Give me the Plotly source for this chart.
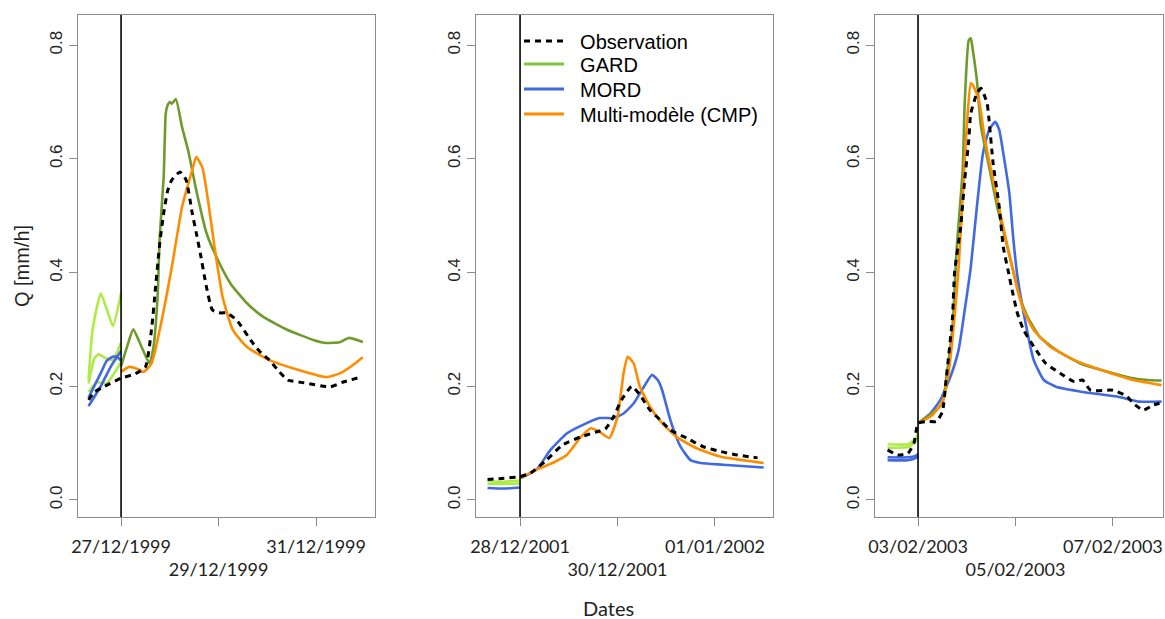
import pandas as pd
import plotly.graph_objects as go

# ---------------- data ----------------
issue_dates = ["1999-12-27", "2001-12-28", "2003-02-03"]
tick_dates = [["1999-12-27", "1999-12-29", "1999-12-31"],
              ["2001-12-28", "2001-12-30", "2002-01-01"],
              ["2003-02-03", "2003-02-05", "2003-02-07"]]
tick_labels = [["27/12/1999", "29/12/1999", "31/12/1999"],
               ["28/12/2001", "30/12/2001", "01/01/2002"],
               ["03/02/2003", "05/02/2003", "07/02/2003"]]

# hours relative to forecast issue time, discharge in mm/h
# ---- event 1 (1999)
obs1_h = [-16, -13, -8, 0, 7, 12, 15, 17, 19, 21, 23, 25, 29, 32, 35, 37, 39, 42, 45, 49, 52,
          57, 64, 68, 73, 78, 82, 90, 103, 109, 118]
obs1_q = [0.176, 0.19, 0.20, 0.214, 0.222, 0.234, 0.30, 0.375, 0.45, 0.505, 0.545, 0.563, 0.577,
          0.563, 0.505, 0.47, 0.434, 0.375, 0.334, 0.329, 0.329, 0.316, 0.28, 0.262, 0.246, 0.225,
          0.211, 0.206, 0.199, 0.207, 0.216]
gard1_h = [0, 3, 6, 10, 14, 16, 18, 19, 21, 22, 23, 24, 25, 27, 30, 33, 37, 42, 47, 54, 62, 70,
           82, 95, 101, 108, 112, 119]
gard1_q = [0.235, 0.27, 0.30, 0.27, 0.24, 0.27, 0.36, 0.46, 0.57, 0.68, 0.695, 0.70, 0.697, 0.705,
           0.656, 0.615, 0.545, 0.47, 0.427, 0.38, 0.346, 0.322, 0.299, 0.281, 0.276, 0.278, 0.285,
           0.278]
mord1_h = []
mord1_q = []
cmp1_h = [0, 4, 9, 11, 15, 20, 25, 30, 35, 37, 40, 43, 46, 50, 55, 62, 73, 87, 101, 108, 114, 119]
cmp1_q = [0.225, 0.234, 0.229, 0.225, 0.24, 0.316, 0.41, 0.515, 0.58, 0.603, 0.585, 0.522, 0.445,
          0.357, 0.299, 0.269, 0.246, 0.229, 0.216, 0.223, 0.237, 0.251]
gard1_pre_h = [[-16, -14, -10, -7, -4, 0], [-16, -13, -11, -8, -4, 0], [-16, -12, -7, -3, 0]]
gard1_pre_q = [[0.211, 0.30, 0.363, 0.335, 0.306, 0.364],
               [0.205, 0.25, 0.256, 0.25, 0.246, 0.277],
               [0.19, 0.207, 0.205, 0.225, 0.243]]
mord1_pre_h = [[-16, -10, -5, 0], [-16, -10, -7, -4, -2, 0]]
mord1_pre_q = [[0.165, 0.20, 0.235, 0.262], [0.18, 0.223, 0.245, 0.252, 0.252, 0.245]]

# ---- event 2 (2001)
obs2_h = [-16, -8, 0, 5, 13, 21, 30, 38, 42, 46, 50, 55, 59, 64, 69, 74, 82, 90, 99, 107, 117]
obs2_q = [0.036, 0.038, 0.041, 0.047, 0.07, 0.097, 0.111, 0.12, 0.125, 0.146, 0.176, 0.2, 0.185,
          0.158, 0.141, 0.123, 0.109, 0.094, 0.085, 0.079, 0.074]
gard2_h = []
gard2_q = []
mord2_h = [0, 8, 15, 23, 31, 39, 46, 51, 56, 61, 65, 68, 70, 74, 79, 84, 89, 100, 120]
mord2_q = [0.038, 0.053, 0.088, 0.117, 0.132, 0.144, 0.144, 0.152, 0.17, 0.199, 0.22, 0.21,
           0.193, 0.141, 0.094, 0.07, 0.065, 0.062, 0.057]
cmp2_h = [0, 8, 16, 23, 30, 35, 39, 44, 48, 51, 53, 56, 59, 64, 70, 77, 87, 99, 120]
cmp2_q = [0.039, 0.053, 0.065, 0.079, 0.111, 0.126, 0.12, 0.109, 0.146, 0.223, 0.252, 0.24, 0.199,
          0.164, 0.135, 0.111, 0.091, 0.076, 0.065]
gard2_pre_h = [[-16, -8, 0], [-16, -8, 0]]
gard2_pre_q = [[0.033, 0.032, 0.034], [0.028, 0.028, 0.029]]
mord2_pre_h = [[-16, -8, 0]]
mord2_pre_q = [[0.021, 0.02, 0.022]]

# ---- event 3 (2003)
obs3_h = [-15, -10, -5, -2, -1, 0, 4, 9, 12, 14, 17, 18, 21, 23, 25, 26, 29, 31, 34, 35, 37, 40,
          42, 45, 46, 49, 52, 57, 63, 70, 77, 81, 85, 96, 103, 106, 111, 116, 119]
obs3_q = [0.088, 0.079, 0.082, 0.10, 0.12, 0.135, 0.138, 0.138, 0.155, 0.217, 0.322, 0.40, 0.48,
          0.563, 0.633, 0.68, 0.715, 0.724, 0.698, 0.668, 0.592, 0.516, 0.445, 0.393, 0.375, 0.328,
          0.299, 0.27, 0.24, 0.223, 0.208, 0.211, 0.193, 0.193, 0.182, 0.17, 0.158, 0.167, 0.17]
gard3_h = [0, 7, 12, 14, 17, 19, 22, 23, 25, 26, 27, 29, 31, 35, 39, 44, 48, 50, 54, 60, 68, 80,
           93, 106, 113, 120]
gard3_q = [0.135, 0.153, 0.17, 0.217, 0.305, 0.44, 0.58, 0.698, 0.809, 0.812, 0.791, 0.738, 0.657,
           0.586, 0.516, 0.445, 0.387, 0.358, 0.322, 0.287, 0.264, 0.24, 0.226, 0.214, 0.211, 0.21]
mord3_h = [0, 6, 11, 16, 20, 23, 26, 29, 32, 35, 38, 40, 42, 45, 47, 49, 54, 57, 62, 68, 81, 98,
           109, 120]
mord3_q = [0.135, 0.152, 0.176, 0.217, 0.264, 0.334, 0.41, 0.516, 0.61, 0.651, 0.665, 0.651, 0.61,
           0.539, 0.457, 0.393, 0.293, 0.246, 0.211, 0.199, 0.19, 0.182, 0.173, 0.173]
cmp3_h = [0, 7, 12, 15, 18, 20, 22, 24, 26, 27, 30, 33, 37, 42, 47, 49, 52, 57, 65, 77, 90, 106, 120]
cmp3_q = [0.135, 0.149, 0.173, 0.223, 0.322, 0.41, 0.533, 0.657, 0.733, 0.73, 0.703, 0.633, 0.563,
          0.48, 0.40, 0.37, 0.334, 0.299, 0.27, 0.246, 0.229, 0.211, 0.202]
gard3_pre_h = [[-15, -5, -1, 0], [-15, -5, -1, 0]]
gard3_pre_q = [[0.098, 0.098, 0.108, 0.118], [0.092, 0.093, 0.103, 0.112]]
mord3_pre_h = [[-15, -5, -1, 0], [-15, -5, -1, 0]]
mord3_pre_q = [[0.075, 0.075, 0.078, 0.081], [0.070, 0.070, 0.074, 0.077]]

events = [
    dict(obs=(obs1_h, obs1_q), gard=(gard1_h, gard1_q), mord=(mord1_h, mord1_q),
         cmp=(cmp1_h, cmp1_q), gpre=(gard1_pre_h, gard1_pre_q), mpre=(mord1_pre_h, mord1_pre_q)),
    dict(obs=(obs2_h, obs2_q), gard=(gard2_h, gard2_q), mord=(mord2_h, mord2_q),
         cmp=(cmp2_h, cmp2_q), gpre=(gard2_pre_h, gard2_pre_q), mpre=(mord2_pre_h, mord2_pre_q)),
    dict(obs=(obs3_h, obs3_q), gard=(gard3_h, gard3_q), mord=(mord3_h, mord3_q),
         cmp=(cmp3_h, cmp3_q), gpre=(gard3_pre_h, gard3_pre_q), mpre=(mord3_pre_h, mord3_pre_q)),
]

legend_names = ["Observation", "GARD", "MORD", "Multi-modèle (CMP)"]

# ---------------- style ----------------
C_OBS = "black"
C_GARD = "#6E9B2C"
C_GARD_PRE = "#AEEB47"
C_GARD_LEG = "#84C43C"
C_MORD = "#4169E1"
C_CMP = "#FF8C00"
FRAME = "#8C8C8C"
LW = 2.6
OBS_DASH = "6px,5px"
SMOOTH = dict(shape="spline", smoothing=0.5)

W, H = 1165, 619


def px_x(p):
    return p / W


def px_y(p):
    return 1 - p / H


x_domains = [[px_x(78), px_x(375)], [px_x(476), px_x(773)], [px_x(875), px_x(1163)]]
y_domain = [px_y(517), px_y(15)]
left_pad_h = [-21.2, -21.7, -21.2]
right_pad_h = [125.0, 124.6, 120.7]


def to_time(issue, hours):
    base = pd.Timestamp(issue)
    return [base + pd.Timedelta(hours=h) for h in hours]


fig = go.Figure()

for i, ev in enumerate(events):
    xa = "x" if i == 0 else f"x{i + 1}"
    ya = "y" if i == 0 else f"y{i + 1}"
    issue = issue_dates[i]
    for hh, qq in zip(*ev["gpre"]):
        fig.add_trace(go.Scatter(x=to_time(issue, hh), y=qq, mode="lines", xaxis=xa, yaxis=ya,
                                 line=dict(color=C_GARD_PRE, width=LW, **SMOOTH), showlegend=False))
    for hh, qq in zip(*ev["mpre"]):
        fig.add_trace(go.Scatter(x=to_time(issue, hh), y=qq, mode="lines", xaxis=xa, yaxis=ya,
                                 line=dict(color=C_MORD, width=LW, **SMOOTH), showlegend=False))
    for key, col in (("mord", C_MORD), ("gard", C_GARD), ("cmp", C_CMP)):
        hh, qq = ev[key]
        if hh:
            fig.add_trace(go.Scatter(x=to_time(issue, hh), y=qq, mode="lines", xaxis=xa, yaxis=ya,
                                     line=dict(color=col, width=LW, **SMOOTH), showlegend=False))
    hh, qq = ev["obs"]
    fig.add_trace(go.Scatter(x=to_time(issue, hh), y=qq, mode="lines", xaxis=xa, yaxis=ya,
                             line=dict(color=C_OBS, width=3, dash=OBS_DASH, **SMOOTH),
                             showlegend=False))

# legend-only entries, one legend per row for exact spacing
legend_rows_px = [41, 64, 89, 114]
legend_keys = ["legend", "legend2", "legend3", "legend4"]
for name, col, dash, lg in zip(legend_names, [C_OBS, C_GARD_LEG, C_MORD, C_CMP],
                               [OBS_DASH, "solid", "solid", "solid"], legend_keys):
    fig.add_trace(go.Scatter(x=[None], y=[None], mode="lines", name="\u00a0\u00a0" + name,
                             line=dict(color=col, width=3, dash=dash), xaxis="x2", yaxis="y2",
                             showlegend=True, legend=lg))

layout = dict(
    width=W, height=H,
    margin=dict(l=0, r=0, t=0, b=0),
    paper_bgcolor="white", plot_bgcolor="white",
    showlegend=True,
)
for lg, row in zip(legend_keys, legend_rows_px):
    layout[lg] = dict(x=px_x(519), y=px_y(row), xanchor="left", yanchor="middle",
                      bgcolor="rgba(0,0,0,0)",
                      font=dict(family="Liberation Sans", size=20, color="black"),
                      itemwidth=40)

for i in range(3):
    sfx = "" if i == 0 else str(i + 1)
    issue = pd.Timestamp(issue_dates[i])
    ttext = [tick_labels[i][0], " <br>" + tick_labels[i][1], tick_labels[i][2]]
    layout["xaxis" + sfx] = dict(
        domain=x_domains[i], anchor="y" + sfx, type="date",
        range=[issue + pd.Timedelta(hours=left_pad_h[i]), issue + pd.Timedelta(hours=right_pad_h[i])],
        tickvals=tick_dates[i], ticktext=ttext, tickmode="array", tickangle=0,
        ticks="outside", ticklen=8, tickcolor=FRAME, tickwidth=1.3, ticklabelstandoff=5,
        showline=True, mirror=True, linecolor=FRAME, linewidth=1.3,
        showgrid=False, zeroline=False, automargin=False,
        tickfont=dict(family="Lato", size=18, color="#222222"),
    )
    layout["yaxis" + sfx] = dict(
        domain=y_domain, anchor="x" + sfx, range=[-0.03, 0.853],
        tickvals=[0.0, 0.2, 0.4, 0.6, 0.8], ticktext=["0.0", "0.2", "0.4", "0.6", "0.8"],
        tickangle=-90, ticks="outside", ticklen=8, tickcolor=FRAME, tickwidth=1.3,
        showline=True, mirror=True, linecolor=FRAME, linewidth=1.3,
        showgrid=False, zeroline=False, automargin=False,
        tickfont=dict(family="Liberation Sans", size=17, color="#222222"),
    )
    if i == 0:
        layout["yaxis"]["title"] = dict(text="Q [mm/h]", standoff=12,
                                        font=dict(family="Liberation Sans", size=20, color="#222222"))
    fig.add_shape(type="line", xref="x" + sfx, yref="y" + sfx + " domain",
                  x0=issue, x1=issue, y0=0, y1=1, line=dict(color="black", width=1.6))

fig.update_layout(**layout)
fig.add_annotation(text="Dates", xref="paper", yref="paper", x=px_x(608), y=px_y(608),
                   xanchor="center", yanchor="middle",
                   showarrow=False, font=dict(family="Lato", size=20, color="#222222"))

# remove the default page margin so the figure fills the window exactly
fig.write_html("out.html", config={"displayModeBar": False},
               post_script="document.body.style.margin='0px';")
